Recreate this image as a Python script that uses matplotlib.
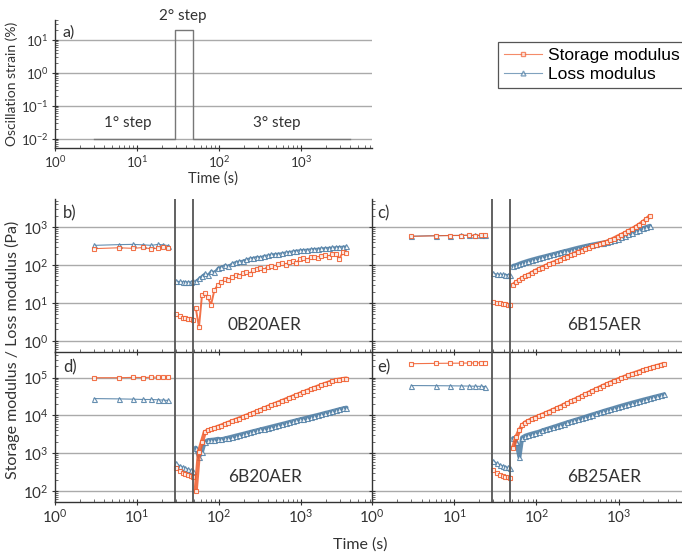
import numpy as np
import matplotlib
matplotlib.use('Agg')
import matplotlib.pyplot as plt
from matplotlib.lines import Line2D

plt.rcParams['font.family'] = ['Lato', 'DejaVu Sans']
plt.rcParams['mathtext.fontset'] = 'custom'
plt.rcParams['mathtext.rm'] = 'Lato'
plt.rcParams['mathtext.default'] = 'regular'

ORANGE = '#F05A2A'
BLUE = '#4B7BA3'

# panel a: strain programme
t_strain = [3, 29, 29, 48, 48, 4000]
strain = [0.01, 0.01, 20, 20, 0.01, 0.01]

# step times (s)
T1 = [3, 6, 9, 12, 15, 18, 21, 24]
T2 = [30, 33, 36, 39, 42, 45, 48]
T3 = [52, 57, 62, 67, 73, 80, 88, 97, 107, 118, 130, 144, 159, 176, 194, 214,
      237, 262, 290, 320, 354, 392, 433, 479, 530, 586, 648, 716, 792, 876,
      969, 1071, 1185, 1310, 1449, 1602, 1772, 1960, 2167, 2397, 2650, 2931,
      3241, 3584]

# 0B20AER
b_G1_s1 = [270, 285, 275, 290, 265, 280, 290, 275]
b_G2_s1 = [330, 345, 350, 340, 330, 350, 340, 325]
b_G1_s2 = [5.0, 4.4, 4.1, 3.9, 3.8, 3.7, 3.6]
b_G2_s2 = [37, 37, 36, 36, 36, 36, 37]
b_G1_s3 = [7.5, 2.3, 16, 18, 14, 9, 22, 30, 36, 42, 40, 48, 55, 50, 60, 65,
           58, 72, 78, 82, 75, 90, 95, 88, 105, 110, 100, 120, 125, 115, 140,
           150, 135, 160, 165, 150, 175, 180, 165, 195, 200, 145, 215, 210]
b_G2_s3 = [38, 45, 52, 60, 55, 70, 65, 85, 90, 100, 95, 110, 120, 125, 130,
           140, 150, 155, 165, 160, 175, 180, 190, 195, 200, 205, 215, 220,
           230, 240, 245, 250, 255, 260, 265, 270, 275, 280, 285, 290, 295,
           300, 305, 310]

# 6B15AER
c_G1_s1 = [570, 590, 600, 600, 610, 600, 605, 610]
c_G2_s1 = [575, 595, 600, 605, 610, 605, 610, 615]
c_G1_s2 = [10.5, 10.0, 9.7, 9.5, 9.3, 9.1, 9.0]
c_G2_s2 = [60, 58, 57, 57, 56, 56, 55]
c_G1_s3 = [30, 35, 40, 45, 50, 55, 62, 70, 78, 86, 95, 105, 115, 125, 138,
           150, 165, 180, 200, 220, 240, 260, 285, 310, 335, 360, 385, 410,
           450, 500, 560, 620, 690, 780, 880, 1000, 1150, 1350, 1600, 1950]
c_G2_s3 = [95, 100, 108, 115, 122, 130, 138, 146, 155, 163, 172, 182, 192,
           203, 215, 228, 240, 255, 270, 285, 300, 315, 330, 345, 360, 375,
           390, 405, 430, 460, 500, 540, 590, 650, 720, 790, 860, 930, 1000,
           1080]

# 6B20AER
d_G1_s1 = [100000, 100000, 102000, 101000, 103000, 104000, 105000, 105000]
d_G2_s1 = [28000, 27500, 27000, 26500, 26500, 26000, 25500, 25000]
d_G1_s2 = [400, 340, 305, 285, 265, 250, 240]
d_G2_s2 = [540, 470, 430, 400, 375, 355, 335]
d_G1_s3 = [100, 1100, 2000, 3600, 4000, 4300, 4600, 5000, 5400, 5900, 6400,
           7000, 7600, 8300, 9000, 9800, 10700, 11700, 12800, 14000, 15300,
           16800, 18400, 20100, 22000, 24000, 26300, 28800, 31500, 34400,
           37600, 41000, 44800, 48900, 53300, 58000, 63000, 68500, 74000,
           80000, 85000, 89000, 92000, 95000]
d_G2_s3 = [1400, 800, 1100, 2000, 2200, 2250, 2300, 2400, 2330, 2460, 2590,
           2740, 2900, 3060, 3230, 3410, 3610, 3820, 4030, 4260, 4500, 4760,
           5030, 5320, 5620, 5940, 6270, 6640, 7010, 7410, 7830, 8280, 8750,
           9250, 9770, 10300, 10900, 11600, 12200, 12900, 13700, 14500,
           15300, 16100]

# 6B25AER
e_G1_s1 = [235000, 240000, 242000, 243000, 245000, 246000, 247000, 248000]
e_G2_s1 = [62000, 61500, 61000, 60500, 60000, 59500, 59000, 58500]
e_G1_s2 = [360, 300, 270, 250, 240, 230, 220]
e_G2_s2 = [630, 540, 490, 460, 440, 420, 400]
e_G1_s3 = [1400, 2700, 4000, 5500, 6500, 7200, 8000, 8800, 9600, 10500,
           11500, 12700, 14000, 15500, 17000, 19000, 21000, 23500, 26000,
           29000, 32000, 36000, 40000, 44500, 49500, 55000, 61000, 67000,
           74000, 81000, 89000, 97000, 106000, 115000, 125000, 135000,
           146000, 157000, 168000, 180000, 192000, 205000, 218000, 232000]
e_G2_s3 = [2500, 2000, 800, 2600, 2900, 3100, 3300, 3500, 3700, 4000, 4300,
           4600, 4950, 5300, 5700, 6100, 6550, 7000, 7500, 8000, 8600, 9200,
           9900, 10600, 11300, 12100, 13000, 13900, 14800, 15800, 16900,
           18000, 19200, 20400, 21700, 23000, 24400, 25900, 27400, 29000,
           30700, 32400, 34300, 36300]

W, H = 682, 554
fig = plt.figure(figsize=(W / 100, H / 100), dpi=100)


def box(x0, y0, x1, y1):
    # pixel box -> figure fraction rect
    return [x0 / W, 1 - y1 / H, (x1 - x0) / W, (y1 - y0) / H]


def style(ax, xlim, ylim, xlabels=True, ylabels=True):
    ax.set_xscale('log')
    ax.set_yscale('log')
    ax.set_xlim(*xlim)
    ax.set_ylim(*ylim)
    ax.spines['top'].set_visible(False)
    ax.spines['right'].set_visible(False)
    for s in ['left', 'bottom']:
        ax.spines[s].set_color('#333333')
        ax.spines[s].set_linewidth(1.0)
    ax.yaxis.grid(True, which='major', color='#aaaaaa', lw=1.0)
    ax.set_axisbelow(True)
    ax.tick_params(which='major', direction='inout', length=5, width=0.8,
                   labelsize=11, colors='#333333', pad=2)
    ax.tick_params(which='minor', direction='in', length=2.5, width=0.6,
                   colors='#555555')
    ax.set_xticks([1, 10, 100, 1000])
    if not xlabels:
        ax.tick_params(axis='x', which='both', labelbottom=False)
    if not ylabels:
        ax.tick_params(axis='y', which='both', labelleft=False)
    ax.set_facecolor('none')


XL = (1, 10 ** 3.866)
XR = (1, 10 ** 3.77)
YT = (0.51, 5500)
YB = (51, 4.8e5)

# panel a
axa = fig.add_axes(box(55, 20, 372, 148))
style(axa, XL, (0.0053, 40))
axa.set_yticks([0.01, 0.1, 1, 10])
axa.tick_params(axis='y', labelsize=9.5)
axa.tick_params(axis='x', labelsize=9.5)
axa.plot(t_strain, strain, color='#777777', lw=1.0)
axa.text(0.025, 0.9, 'a)', transform=axa.transAxes, fontsize=11.5,
         color='#333333', va='center')
axa.text(7.8, 0.03, '1° step', fontsize=11, ha='center', va='center',
         color='#333333')
axa.text(510, 0.03, '3° step', fontsize=11, ha='center', va='center',
         color='#333333')
axa.text(36, 52, '2° step', fontsize=11, ha='center', va='center',
         color='#333333', clip_on=False)
axa.set_xlabel('Time (s)', fontsize=10.5, color='#333333', labelpad=1)
axa.set_ylabel('Oscillation strain (%)', fontsize=10, color='#333333',
               labelpad=2)

axb = fig.add_axes(box(55, 199, 372, 352))
axc = fig.add_axes(box(372, 199, 682, 352))
axd = fig.add_axes(box(55, 352, 372, 502))
axe = fig.add_axes(box(372, 352, 682, 502))

style(axb, XL, YT, xlabels=False)
style(axc, XR, YT, xlabels=False, ylabels=False)
style(axd, XL, YB)
style(axe, XR, YB, ylabels=False)
axb.set_yticks([1, 10, 100, 1000])
axc.set_yticks([1, 10, 100, 1000])
axd.set_yticks([100, 1000, 10000, 100000])
axe.set_yticks([100, 1000, 10000, 100000])

panels = [
    (axb, 'b)', '0B20AER', T3,
     [b_G1_s1, b_G1_s2, b_G1_s3], [b_G2_s1, b_G2_s2, b_G2_s3]),
    (axc, 'c)', '6B15AER', T3[:len(c_G1_s3)],
     [c_G1_s1, c_G1_s2, c_G1_s3], [c_G2_s1, c_G2_s2, c_G2_s3]),
    (axd, 'd)', '6B20AER', T3,
     [d_G1_s1, d_G1_s2, d_G1_s3], [d_G2_s1, d_G2_s2, d_G2_s3]),
    (axe, 'e)', '6B25AER', T3,
     [e_G1_s1, e_G1_s2, e_G1_s3], [e_G2_s1, e_G2_s2, e_G2_s3]),
]

for ax, tag, name, t3, g1, g2 in panels:
    dense = ax is not axb
    for col, mk, ms, series in [(BLUE, '^', 3.6, g2), (ORANGE, 's', 3.2, g1)]:
        for i, (t, v) in enumerate(zip([T1, T2, t3], series)):
            lw = 0.8
            if i == 2:
                lw = 3.0 if dense else 1.4
            ax.plot(t, v, color=col, lw=lw, marker=mk, ms=ms, mfc='white',
                    mec=col, mew=0.8, alpha=0.85, solid_capstyle='round')
    ax.axvline(29, color='#555555', lw=1.3)
    ax.axvline(48, color='#555555', lw=1.3)
    x0 = 0.025 if ax in (axb, axd) else 0.016
    xn = 0.662 if ax in (axb, axd) else 0.75
    yl = 0.905 if ax in (axb, axc) else 0.9
    yn = 0.176 if ax in (axb, axc) else 0.167
    ax.text(x0, yl, tag, transform=ax.transAxes, fontsize=12,
            color='#333333', va='center')
    ax.text(xn, yn, name, transform=ax.transAxes, fontsize=12.5,
            color='#333333', va='center', ha='center')

fig.text(12 / W, 1 - 350 / H, 'Storage modulus / Loss modulus (Pa)',
         rotation=90, fontsize=11.5, color='#333333', va='center', ha='center')
fig.text(360 / W, 1 - 545 / H, 'Time (s)', fontsize=11.5, color='#333333',
         va='center', ha='center')

handles = [
    Line2D([], [], color=ORANGE, lw=0.8, marker='s', ms=3.5, mfc='white',
           mec=ORANGE, alpha=0.7),
    Line2D([], [], color=BLUE, lw=0.8, marker='^', ms=3.5, mfc='white',
           mec=BLUE, alpha=0.7),
]
leg = fig.legend(handles, ['Storage modulus', 'Loss modulus'],
                 loc='upper left', bbox_to_anchor=(498 / W, 1 - 42 / H),
                 prop={'family': 'Liberation Sans', 'size': 12.5},
                 frameon=True, fancybox=False, framealpha=1,
                 edgecolor='#555555', handlelength=2.2, handletextpad=0.35,
                 borderpad=0.35, labelspacing=0.2, borderaxespad=0)
leg.get_frame().set_linewidth(0.9)

plt.savefig('out.png', dpi=100)
